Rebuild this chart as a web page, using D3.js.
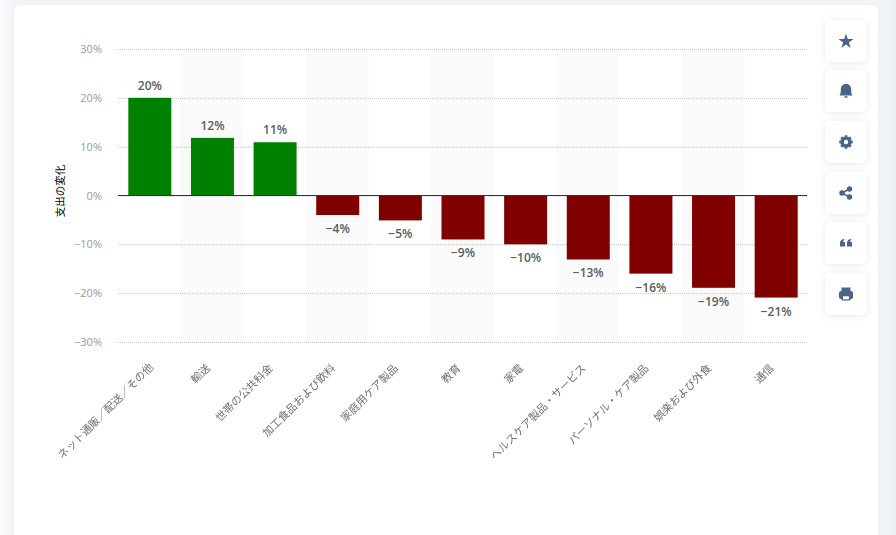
<!DOCTYPE html>
<html>
<head>
<meta charset="utf-8">
<script src="https://cdn.jsdelivr.net/npm/d3@7"></script>
<style>
  html, body { margin: 0; padding: 0; width: 896px; height: 535px; overflow: hidden; }
  body { background: linear-gradient(90deg, #fbfbfd 0, #f5f6fa 14px, #f5f6fa 878px, #eceff4 896px); }
</style>
</head>
<body>
<script>
const categories = ["ネット通販／配送／その他", "輸送", "世帯の公共料金", "加工食品および飲料", "家庭用ケア製品", "教育", "家電", "ヘルスケア製品・サービス", "パーソナル・ケア製品", "娯楽および外食", "通信"];
const values = [20, 11.8, 10.9, -4, -5.1, -9, -10, -13.1, -16, -18.9, -20.9];
const valueLabels = ["20%", "12%", "11%", "−4%", "−5%", "−9%", "−10%", "−13%", "−16%", "−19%", "−21%"];
const yTicks = [-30, -20, -10, 0, 10, 20, 30];
const yTitle = "支出の変化";

const WIDTH = 896;
const HEIGHT = 535;
const LEFT = 118;
const RIGHT = 807;
const TOP = 49;
const BOTTOM = 342;
const JP = "'Noto Sans CJK JP', 'Noto Sans', sans-serif";
const LATIN = "'Open Sans', 'Noto Sans CJK JP', sans-serif";

const svg = d3.select("body")
  .append("svg")
  .attr("width", WIDTH)
  .attr("height", HEIGHT)
  .style("display", "block");

const defs = svg.append("defs");
const shadow = defs.append("filter").attr("id", "soft")
  .attr("x", "-30%").attr("y", "-30%").attr("width", "160%").attr("height", "160%");
shadow.append("feDropShadow").attr("dx", 0).attr("dy", 1).attr("stdDeviation", 3)
  .attr("flood-color", "#8a94a8").attr("flood-opacity", 0.22);
const cardShadow = defs.append("filter").attr("id", "card")
  .attr("x", "-5%").attr("y", "-5%").attr("width", "110%").attr("height", "110%");
cardShadow.append("feDropShadow").attr("dx", 0).attr("dy", 0).attr("stdDeviation", 5)
  .attr("flood-color", "#8a94a8").attr("flood-opacity", 0.12);

// white card behind the chart
svg.append("rect")
  .attr("x", 14).attr("y", 5)
  .attr("width", 864).attr("height", 560)
  .attr("rx", 6)
  .attr("fill", "#fff")
  .attr("filter", "url(#card)");

const xScale = d3.scaleBand()
  .domain(categories)
  .range([LEFT, RIGHT])
  .paddingInner(0)
  .paddingOuter(0);

const yScale = d3.scaleLinear()
  .domain([-30, 30])
  .range([BOTTOM, TOP]);

// alternating background stripes
svg.selectAll("rect.stripe")
  .data(categories.filter((d, i) => i % 2 == 1))
  .enter()
  .append("rect")
  .attr("class", "stripe")
  .attr("x", d => xScale(d))
  .attr("y", TOP)
  .attr("width", xScale.bandwidth())
  .attr("height", BOTTOM - TOP)
  .attr("fill", "#fafafa");

const yAxis = d3.axisLeft(yScale)
  .tickValues(yTicks)
  .tickSize(-(RIGHT - LEFT))
  .tickPadding(16)
  .tickFormat(d => (d < 0 ? "−" + (-d) : d) + "%");

const yG = svg.append("g")
  .attr("id", "y-axis")
  .attr("transform", "translate(" + LEFT + ", 0)")
  .call(yAxis);
yG.select(".domain").remove();
yG.selectAll("line")
  .attr("stroke", "#c2c2c2")
  .attr("stroke-dasharray", "1 1");
yG.selectAll("text")
  .attr("fill", "#999")
  .style("font-family", LATIN)
  .style("font-size", "11px");

const barWidth = 43;
svg.selectAll("rect.bar")
  .data(values)
  .enter()
  .append("rect")
  .attr("class", "bar")
  .attr("x", (d, i) => xScale(categories[i]) + (xScale.bandwidth() - barWidth) / 2 + 0.5)
  .attr("y", d => yScale(Math.max(d, 0)))
  .attr("width", barWidth)
  .attr("height", d => Math.abs(yScale(d) - yScale(0)))
  .attr("fill", d => d > 0 ? "#008000" : "#800000");

// zero line
svg.append("line")
  .attr("x1", LEFT).attr("x2", RIGHT)
  .attr("y1", yScale(0)).attr("y2", yScale(0))
  .attr("stroke", "#333")
  .attr("stroke-width", 1);

svg.selectAll("text.value")
  .data(values)
  .enter()
  .append("text")
  .attr("class", "value")
  .attr("x", (d, i) => xScale(categories[i]) + xScale.bandwidth() / 2 + 0.5)
  .attr("y", d => d > 0 ? yScale(d) - 8 : yScale(d) + 18)
  .attr("text-anchor", "middle")
  .attr("fill", "#5c5c5c")
  .style("font-family", LATIN)
  .style("font-size", "12px")
  .style("font-weight", 600)
  .text((d, i) => valueLabels[i]);

// group opacity keeps the rotated text in plain grey antialiasing
const catG = svg.append("g").attr("opacity", 0.99);
catG.selectAll("text.cat")
  .data(categories)
  .enter()
  .append("text")
  .attr("class", "cat")
  // the long first label sits a little further right in the original
  .attr("transform", (d, i) => "translate(" + (xScale(d) + xScale.bandwidth() / 2 - 5 + (i == 0 ? 6 : 0)) + ", " + (i == 0 ? 364 : 365) + ") rotate(-45)")
  .attr("text-anchor", "end")
  .attr("dy", "0.5em")
  .attr("fill", "#6e6e6e")
  .style("font-family", JP)
  .style("font-size", "10.8px")
  .text(d => d);

svg.append("text")
  .attr("transform", "translate(60, 191) rotate(-90)")
  .attr("text-anchor", "middle")
  .attr("dy", "0.35em")
  .attr("fill", "#000")
  .style("font-family", JP)
  .style("font-size", "10.5px")
  .text(yTitle);

// side buttons
const ICON = "#4a6488";
const buttonTops = [20, 70, 121, 172, 222, 273];
const icons = [
  g => g.append("path").attr("d", d3.symbol(d3.symbolStar, 70)()).attr("transform", "translate(0, 0.5)"),
  g => {
    g.append("path").attr("d", "M-6.5 4.5 C-5 2.5 -5.2 0 -5.2 -1.5 C-5.2 -5 -3 -7 0 -7 C3 -7 5.2 -5 5.2 -1.5 C5.2 0 5 2.5 6.5 4.5 Z");
    g.append("rect").attr("x", -1.5).attr("y", 5.2).attr("width", 3).attr("height", 1.5);
  },
  g => {
    g.append("circle").attr("r", 4).attr("fill", "none").attr("stroke", ICON).attr("stroke-width", 3.2);
    g.selectAll("rect").data(d3.range(0, 180, 45)).enter().append("rect")
      .attr("x", -1.4).attr("y", -6.8).attr("width", 2.8).attr("height", 13.6)
      .attr("transform", d => "rotate(" + d + ")")
      .attr("opacity", 0.9)
      .attr("fill", ICON);
    g.append("circle").attr("r", 2.2).attr("fill", "#fff");
  },
  g => {
    g.append("path").attr("d", "M3.5 -4 L-4 0 L3.5 4").attr("fill", "none").attr("stroke", ICON).attr("stroke-width", 1.5);
    g.append("circle").attr("cx", 3.5).attr("cy", -4).attr("r", 2.7);
    g.append("circle").attr("cx", -4).attr("cy", 0).attr("r", 2.7);
    g.append("circle").attr("cx", 3.5).attr("cy", 4).attr("r", 2.7);
  },
  g => {
    g.append("path").attr("d", "M-6 0 C-6 -2 -5 -3.5 -2 -4 L-1.5 -3 C-2.5 -2.6 -3 -2 -3 -1 L-1 -1 L-1 3.5 L-6 3.5 Z");
    g.append("path").attr("d", "M1 0 C1 -2 2 -3.5 5 -4 L5.5 -3 C4.5 -2.6 4 -2 4 -1 L6 -1 L6 3.5 L1 3.5 Z");
  },
  g => {
    g.append("path").attr("d", "M-4.5 -2 L-4.5 -6.5 L4.5 -6.5 L4.5 -2 Z");
    g.append("rect").attr("x", -7).attr("y", -3).attr("width", 14).attr("height", 8).attr("rx", 2);
    g.append("rect").attr("x", -4.5).attr("y", 1).attr("width", 9).attr("height", 5.5).attr("rx", 0.8);
    g.append("rect").attr("x", -3).attr("y", 2.3).attr("width", 6).attr("height", 3).attr("fill", "#fff");
  }
];

const buttons = svg.selectAll("g.btn")
  .data(buttonTops)
  .enter()
  .append("g")
  .attr("class", "btn")
  .attr("transform", d => "translate(825, " + d + ")");

buttons.append("rect")
  .attr("width", 42)
  .attr("height", 42)
  .attr("rx", 5)
  .attr("fill", "#fff")
  .attr("filter", "url(#soft)");

buttons.each(function(d, i) {
  const g = d3.select(this).append("g")
    .attr("transform", "translate(21, 21)")
    .attr("fill", ICON);
  icons[i](g);
});
</script>
</body>
</html>
